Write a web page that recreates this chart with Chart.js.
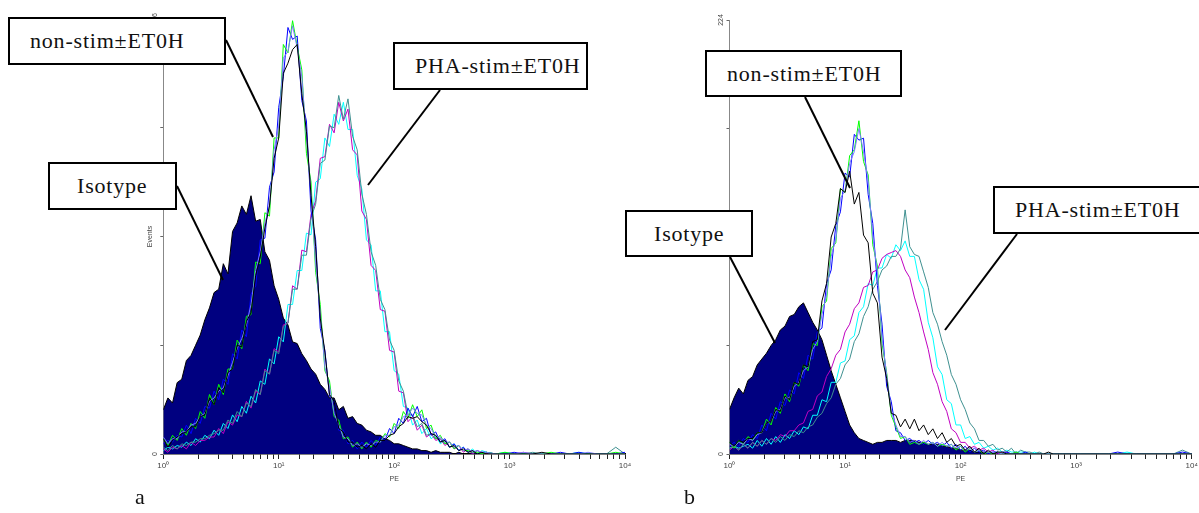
<!DOCTYPE html>
<html>
<head>
<meta charset="utf-8">
<script src="https://cdn.jsdelivr.net/npm/chart.js@4.4.1/dist/chart.umd.min.js"></script>
<style>
  body { margin: 0; background: #fff; }
  #page { position: relative; width: 1199px; height: 513px; overflow: hidden; background: #fff; }
  #page canvas { position: absolute; top: 0; }
  #chart-a { left: 100px; }
  #chart-b { left: 660px; }
  #leaders { position: absolute; left: 0; top: 0; }
  .callout {
    position: absolute; box-sizing: border-box; height: 48px;
    border: 2px solid #000; background: #fff; color: #111;
    font-family: "Liberation Serif", "DejaVu Serif", serif; font-size: 22px; letter-spacing: 0.8px;
    display: flex; align-items: center; padding-left: 20px; white-space: nowrap;
  }
  .panel-tag { position: absolute; font-family: "Liberation Serif", "DejaVu Serif", serif; font-size: 22px; color: #111; }
</style>
</head>
<body>
<div id="page">
  <canvas id="chart-a" width="560" height="513"></canvas>
  <canvas id="chart-b" width="560" height="513"></canvas>

  <svg id="leaders" width="1199" height="513">
    <g stroke="#000" stroke-width="2">
      <line x1="226" y1="40" x2="273" y2="137"/>
      <line x1="440" y1="90" x2="368" y2="185"/>
      <line x1="177" y1="186" x2="223" y2="280"/>
      <line x1="805" y1="97" x2="850" y2="188"/>
      <line x1="1017" y1="234" x2="945" y2="330"/>
      <line x1="730" y1="257" x2="775" y2="343"/>
    </g>
  </svg>

  <div class="callout" style="left:8px;top:17px;width:218px">non-stim±ET0H</div>
  <div class="callout" style="left:393px;top:42px;width:195px">PHA-stim±ET0H</div>
  <div class="callout" style="left:48px;top:162px;width:129px;padding-left:27px">Isotype</div>
  <div class="callout" style="left:705px;top:50px;width:197px;height:47px">non-stim±ET0H</div>
  <div class="callout" style="left:993px;top:186px;width:215px">PHA-stim±ET0H</div>
  <div class="callout" style="left:625px;top:210px;width:128px;height:47px;padding-left:27px">Isotype</div>

  <div class="panel-tag" style="left:135px;top:484px">a</div>
  <div class="panel-tag" style="left:684px;top:484px">b</div>
</div>

<script>
// PE channel centres (log spaced), shared by every histogram
const peBins = [
  1, 1.096, 1.202, 1.318, 1.445, 1.585, 1.738, 1.905, 2.089, 2.291,
  2.512, 2.754, 3.020, 3.311, 3.631, 3.981, 4.365, 4.786, 5.248, 5.754,
  6.310, 6.918, 7.586, 8.318, 9.120, 10, 10.96, 12.02, 13.18, 14.45,
  15.85, 17.38, 19.05, 20.89, 22.91, 25.12, 27.54, 30.20, 33.11, 36.31,
  39.81, 43.65, 47.86, 52.48, 57.54, 63.10, 69.18, 75.86, 83.18, 91.20,
  100, 109.6, 120.2, 131.8, 144.5, 158.5, 173.8, 190.5, 208.9, 229.1,
  251.2, 275.4, 302.0, 331.1, 363.1, 398.1, 436.5, 478.6, 524.8, 575.4, 631.0,
  758.6, 912.0, 1096, 1318, 1585, 1905, 2291, 2754, 3311, 3981, 4786, 5754, 6918, 8318, 10000
];

const decadeLabels = ["10\u2070", "10\u00b9", "10\u00b2", "10\u00b3", "10\u2074"];
const yMaxA = 256;
const yMaxB = 224;

// ---- panel a : event counts per channel ----
const isoA = [
  26, 33, 30, 42, 44, 55, 58, 64, 70, 79,
  86, 95, 97, 112, 106, 131, 136, 146, 141, 152,
  137, 138, 119, 114, 99, 91, 80, 76, 66, 65,
  59, 55, 50, 47, 41, 38, 33, 33, 26, 28,
  21, 22, 18, 17, 14, 13, 11, 11, 9, 8,
  6, 6, 5, 4, 3, 3, 2, 2, 1, 2,
  1, 1, 1, 0, 1, 0, 0, 1, 0, 0, 0,
  0, 0, 0, 0, 0, 0, 0, 0, 0, 0, 0, 0, 0, 0, 0
];
const nonStimA_green = [
  9, 5, 11, 8, 15, 11, 18, 15, 25, 21,
  35, 29, 41, 35, 50, 50, 67, 62, 81, 82,
  113, 112, 142, 140, 186, 186, 241, 236, 255, 240,
  226, 177, 160, 107, 88, 49, 43, 22, 20, 9,
  10, 4, 7, 3, 7, 4, 8, 7, 12, 10,
  18, 15, 25, 21, 29, 22, 26, 15, 17, 9,
  11, 6, 7, 3, 5, 2, 2, 1, 1, 0, 1,
  0, 1, 0, 0, 0, 0, 1, 0, 0, 0, 0, 0, 0, 1, 0
];
const nonStimA_blue = [
  6, 8, 7, 11, 10, 17, 12, 21, 18, 28,
  27, 37, 32, 44, 41, 59, 56, 73, 69, 94,
  99, 126, 127, 157, 166, 204, 222, 251, 244, 246,
  208, 196, 143, 126, 74, 61, 34, 31, 14, 14,
  6, 8, 3, 7, 4, 8, 5, 10, 8, 15,
  12, 21, 18, 27, 22, 28, 19, 21, 11, 13,
  7, 9, 4, 6, 2, 4, 1, 2, 0, 1, 1,
  0, 0, 1, 0, 0, 0, 0, 1, 0, 1, 0, 0, 0, 0, 1
];
const nonStimA_black = [
  9, 4, 8, 10, 12, 13, 16, 16, 22, 23,
  33, 29, 39, 36, 48, 50, 64, 63, 78, 83,
  105, 116, 133, 146, 174, 186, 224, 230, 238, 241,
  212, 190, 152, 122, 80, 60, 35, 31, 15, 13,
  7, 7, 4, 5, 3, 6, 4, 8, 8, 11,
  12, 16, 18, 22, 21, 22, 19, 17, 12, 11,
  7, 8, 4, 5, 2, 3, 1, 2, 0, 1, 0,
  0, 0, 0, 0, 0, 1, 0, 0, 0, 0, 0, 0, 0, 0, 0
];
const nonStimA_lav = [
  10, 6, 9, 9, 13, 13, 17, 18, 22, 24,
  31, 33, 37, 39, 46, 54, 62, 68, 76, 88,
  108, 119, 136, 146, 179, 193, 233, 237, 252, 239,
  222, 186, 154, 112, 83, 51, 40, 24, 17, 10,
  9, 5, 6, 4, 6, 5, 7, 7, 11, 11,
  16, 17, 22, 23, 27, 24, 23, 17, 15, 10,
  10, 7, 7, 4, 5, 2, 3, 1, 2, 1, 1,
  0, 0, 0, 1, 0, 0, 0, 0, 0, 0, 1, 0, 0, 0, 0
];
const phaA_cyan = [
  2, 4, 3, 5, 4, 7, 5, 9, 7, 11,
  9, 14, 11, 18, 15, 23, 19, 28, 24, 34,
  30, 43, 41, 56, 53, 69, 66, 88, 88, 108,
  108, 130, 129, 160, 162, 186, 181, 200, 194, 207,
  191, 191, 164, 156, 126, 123, 96, 96, 72, 72,
  49, 47, 28, 27, 17, 20, 12, 15, 9, 11,
  6, 8, 4, 6, 2, 4, 1, 3, 0, 2, 1,
  0, 1, 0, 0, 0, 0, 0, 0, 0, 1, 0, 0, 0, 0, 0
];
const phaA_magenta = [
  3, 1, 4, 3, 5, 3, 7, 5, 8, 8,
  10, 10, 15, 12, 19, 17, 23, 22, 31, 27,
  37, 35, 50, 47, 62, 60, 76, 77, 99, 97,
  120, 119, 141, 149, 174, 175, 194, 189, 207, 196,
  203, 179, 176, 143, 138, 111, 108, 85, 84, 61,
  60, 37, 36, 19, 22, 14, 17, 10, 12, 8,
  9, 5, 7, 3, 5, 1, 3, 0, 2, 1, 0,
  0, 0, 0, 1, 0, 0, 0, 0, 0, 0, 0, 0, 0, 0, 0
];
const phaA_teal = [
  4, 2, 5, 3, 6, 5, 7, 7, 9, 9,
  11, 12, 14, 14, 20, 18, 25, 22, 30, 28,
  38, 35, 49, 47, 61, 59, 75, 77, 97, 97,
  117, 117, 139, 147, 171, 173, 193, 192, 211, 197,
  209, 187, 179, 153, 141, 119, 111, 91, 85, 67,
  61, 43, 37, 23, 23, 16, 18, 11, 12, 9,
  9, 6, 7, 4, 5, 2, 3, 1, 2, 0, 1,
  0, 0, 0, 0, 1, 0, 0, 0, 0, 0, 0, 0, 0, 4, 0
];

// ---- panel b : event counts per channel ----
const isoB = [
  23, 29, 34, 31, 38, 40, 46, 49, 52, 56,
  59, 64, 66, 71, 72, 76, 78, 73, 68, 64,
  59, 51, 43, 36, 29, 22, 15, 11, 8, 7,
  6, 5, 6, 6, 7, 7, 7, 6, 7, 7,
  7, 6, 6, 5, 5, 5, 4, 4, 3, 3,
  2, 2, 2, 1, 1, 1, 1, 0, 1, 0,
  0, 0, 0, 0, 0, 0, 0, 0, 0, 0, 0,
  0, 0, 0, 0, 0, 0, 0, 0, 0, 0, 0, 0, 0, 0, 0
];
const nonStimB_green = [
  6, 3, 7, 5, 9, 7, 11, 11, 18, 15,
  24, 21, 31, 27, 37, 35, 46, 43, 57, 56,
  76, 79, 106, 109, 137, 135, 154, 157, 172, 151,
  144, 108, 97, 57, 42, 20, 14, 8, 9, 5,
  6, 5, 6, 5, 6, 4, 5, 4, 5, 2,
  4, 1, 3, 1, 2, 0, 1, 0, 1, 0,
  0, 0, 1, 0, 0, 0, 0, 0, 0, 0, 0,
  0, 0, 0, 0, 0, 0, 0, 0, 0, 0, 0, 0, 0, 0, 0
];
const nonStimB_blue = [
  4, 6, 4, 8, 6, 10, 8, 15, 12, 21,
  18, 27, 25, 33, 31, 42, 39, 51, 49, 63,
  65, 88, 95, 118, 125, 145, 143, 165, 162, 163,
  134, 119, 87, 67, 35, 27, 12, 11, 7, 8,
  6, 7, 5, 7, 5, 6, 4, 6, 3, 5,
  2, 4, 1, 3, 1, 2, 0, 1, 1, 0,
  1, 0, 0, 0, 1, 0, 0, 0, 0, 0, 0,
  0, 0, 0, 0, 0, 0, 1, 0, 0, 0, 0, 0, 0, 1, 0
];
const nonStimB_black = [
  6, 4, 7, 6, 8, 8, 11, 11, 16, 17,
  23, 22, 30, 28, 37, 36, 46, 45, 58, 59,
  79, 88, 112, 119, 137, 135, 146, 129, 135, 113,
  109, 83, 78, 50, 39, 21, 20, 14, 18, 13,
  18, 12, 15, 10, 13, 8, 11, 6, 8, 4,
  5, 2, 4, 1, 3, 0, 2, 0, 1, 1,
  0, 0, 0, 0, 0, 0, 0, 0, 0, 1, 0,
  0, 0, 0, 0, 0, 0, 0, 0, 0, 0, 0, 0, 0, 0, 0
];
const nonStimB_lav = [
  5, 4, 6, 5, 8, 7, 10, 11, 16, 17,
  22, 23, 29, 29, 35, 37, 43, 45, 54, 58,
  72, 82, 102, 111, 132, 136, 150, 156, 168, 156,
  141, 112, 94, 60, 41, 22, 15, 9, 9, 6,
  7, 5, 7, 5, 6, 4, 6, 4, 5, 3,
  4, 2, 3, 1, 2, 1, 1, 1, 1, 0,
  0, 0, 0, 0, 0, 0, 0, 0, 0, 0, 0,
  0, 0, 0, 0, 0, 0, 0, 0, 0, 0, 0, 0, 0, 0, 0
];
const phaB_cyan = [
  3, 4, 3, 4, 5, 3, 7, 4, 8, 5,
  9, 6, 10, 8, 12, 10, 14, 13, 20, 20,
  28, 27, 37, 37, 47, 48, 59, 61, 73, 76,
  88, 87, 96, 96, 103, 101, 108, 105, 110, 102,
  102, 90, 85, 68, 60, 45, 41, 28, 26, 15,
  15, 8, 9, 5, 6, 3, 4, 2, 3, 1,
  2, 1, 1, 1, 1, 0, 1, 0, 0, 0, 0,
  0, 0, 0, 0, 0, 0, 0, 1, 0, 0, 0, 0, 0, 0, 0
];
const phaB_magenta = [
  2, 4, 2, 5, 3, 6, 4, 7, 5, 8,
  7, 10, 9, 12, 12, 15, 16, 22, 23, 30,
  32, 40, 44, 51, 54, 63, 67, 75, 78, 86,
  87, 94, 95, 101, 103, 104, 105, 102, 95, 91,
  81, 73, 63, 54, 42, 36, 27, 22, 13, 11,
  6, 6, 3, 4, 2, 3, 1, 2, 0, 1,
  1, 0, 1, 0, 0, 0, 0, 0, 0, 0, 0,
  0, 0, 0, 0, 0, 0, 0, 0, 0, 0, 0, 0, 0, 0, 0
];
const phaB_teal = [
  3, 4, 2, 5, 3, 6, 4, 7, 5, 8,
  6, 9, 7, 10, 9, 12, 11, 14, 15, 19,
  21, 26, 29, 36, 39, 46, 49, 58, 62, 71,
  76, 85, 89, 95, 97, 102, 102, 106, 126, 107,
  103, 102, 94, 86, 73, 67, 58, 51, 41, 36,
  28, 23, 16, 13, 7, 7, 4, 5, 2, 3,
  1, 3, 0, 2, 1, 1, 0, 1, 0, 0, 0,
  0, 0, 0, 0, 0, 0, 0, 0, 0, 0, 0, 0, 0, 2, 0
];

function toPoints(counts) {
  return counts.map((c, i) => ({ x: peBins[i], y: c }));
}

function trace(counts, color) {
  return {
    data: toPoints(counts),
    borderColor: color,
    borderWidth: 1,
    pointRadius: 0,
    tension: 0,
    fill: false,
    order: 1,
  };
}

// isotype control is drawn as a solid navy area under everything else
function filledTrace(counts) {
  return {
    data: toPoints(counts),
    borderColor: "#000000",
    backgroundColor: "#000080",
    borderWidth: 1,
    pointRadius: 0,
    tension: 0,
    fill: "origin",
    order: 5,
  };
}

// y tick labels only at 0 and at full scale, written sideways
const rotatedYLabels = {
  id: "rotatedYLabels",
  afterDraw(chart) {
    const scale = chart.scales.y;
    const ctx = chart.ctx;
    ctx.save();
    ctx.font = "7px Arial";
    ctx.fillStyle = "#444";
    ctx.textAlign = "center";
    ctx.textBaseline = "middle";
    [scale.min, scale.max].forEach((v) => {
      ctx.save();
      ctx.translate(scale.right - 8, scale.getPixelForValue(v));
      ctx.rotate(-Math.PI / 2);
      ctx.fillText(String(v), 0, 0);
      ctx.restore();
    });
    ctx.restore();
  },
};

function decadeLabel(value) {
  const e = Math.round(Math.log10(value));
  if (Math.abs(value - Math.pow(10, e)) < 1e-6 * value && decadeLabels[e]) {
    return decadeLabels[e];
  }
  return "";
}

function makeHistogram(canvasId, datasets, yMax, layout) {
  return new Chart(document.getElementById(canvasId), {
    type: "line",
    data: { datasets },
    options: {
      responsive: false,
      animation: false,
      events: [],
      layout: {
        padding: { left: 0, right: layout.padRight, top: layout.padTop, bottom: 0 },
      },
      plugins: { legend: { display: false }, tooltip: { enabled: false } },
      scales: {
        x: {
          type: "logarithmic",
          min: 1,
          max: 10000,
          afterFit(scale) {
            scale.height = 59;
          },
          border: { color: "#000", width: 1.5 },
          grid: { drawOnChartArea: false, tickLength: 5, color: "#222" },
          ticks: {
            autoSkip: false,
            maxRotation: 0,
            padding: 2,
            color: "#444",
            font: { family: "Arial", size: 8 },
            callback: decadeLabel,
          },
          title: {
            display: true,
            text: "PE",
            color: "#444",
            font: { family: "Arial", size: 7 },
            padding: { top: 0, bottom: 30 },
          },
        },
        y: {
          min: 0,
          max: yMax,
          afterFit(scale) {
            scale.width = layout.axisWidth;
          },
          border: { color: "#888", width: 1 },
          grid: { drawOnChartArea: false, tickLength: 3, color: "#666" },
          ticks: { display: false, stepSize: yMax / 4 },
          title: {
            display: true,
            text: "Events",
            color: "#444",
            font: { family: "Arial", size: 7 },
            padding: { top: layout.titlePad, bottom: 0 },
          },
        },
      },
    },
    plugins: [rotatedYLabels],
  });
}

makeHistogram(
  "chart-a",
  [
    trace(nonStimA_black, "#000000"),
    trace(nonStimA_lav, "#7b7bff"),
    trace(nonStimA_green, "#00ff00"),
    trace(nonStimA_blue, "#0000ff"),
    trace(phaA_teal, "#3f9090"),
    trace(phaA_magenta, "#c000c0"),
    trace(phaA_cyan, "#00ffff"),
    filledTrace(isoA),
  ],
  yMaxA,
  { padRight: 35, padTop: 19, axisWidth: 63.3, titlePad: 45.8 }
);

makeHistogram(
  "chart-b",
  [
    trace(nonStimB_black, "#000000"),
    trace(nonStimB_lav, "#7b7bff"),
    trace(nonStimB_green, "#00ff00"),
    trace(nonStimB_blue, "#0000ff"),
    trace(phaB_teal, "#3f9090"),
    trace(phaB_magenta, "#c000c0"),
    trace(phaB_cyan, "#00ffff"),
    filledTrace(isoB),
  ],
  yMaxB,
  { padRight: 28.3, padTop: 20, axisWidth: 69.5, titlePad: 52.3 }
);
</script>
</body>
</html>
